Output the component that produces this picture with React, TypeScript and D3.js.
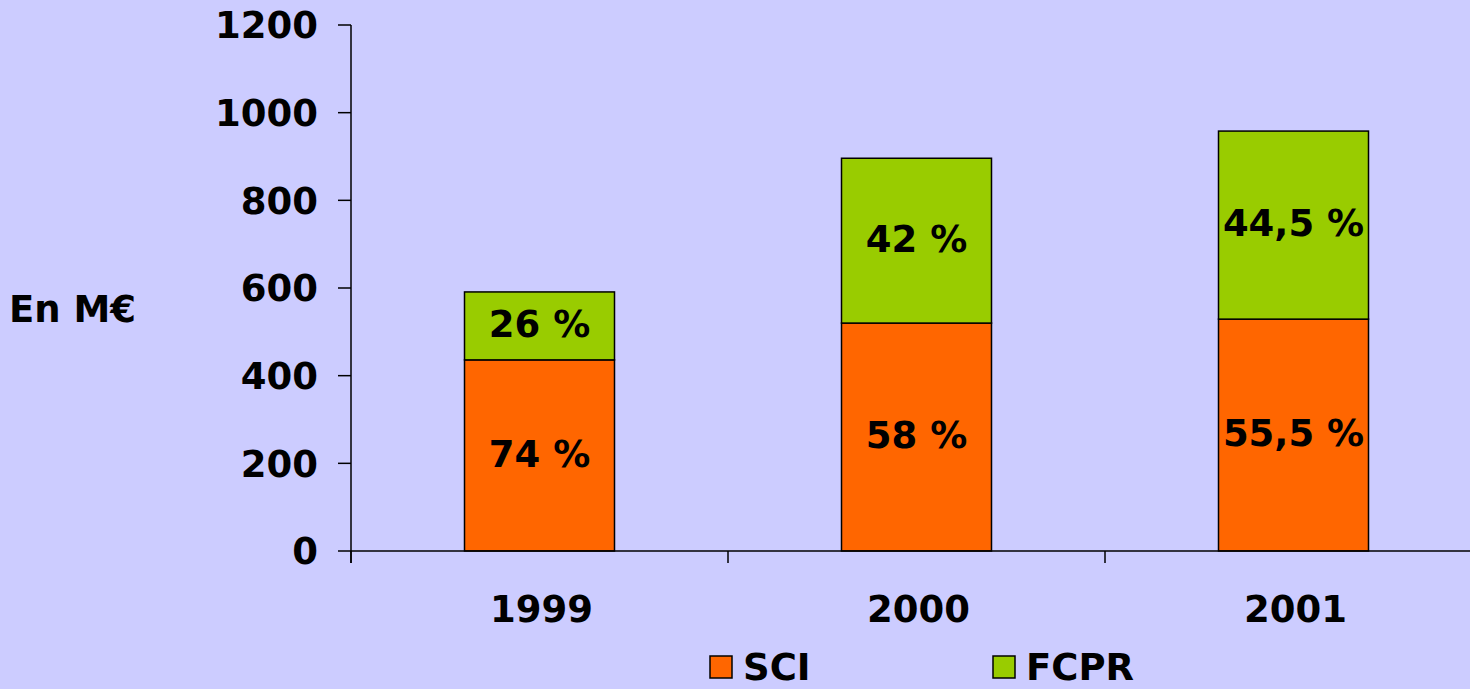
import React, { useEffect, useRef } from "react";
import * as d3 from "d3";

const years = ["1999", "2000", "2001"];
const sci = [436, 520, 529];
const fcpr = [155, 376, 429];
const sciLabels = ["74 %", "58 %", "55,5 %"];
const fcprLabels = ["26 %", "42 %", "44,5 %"];
const yTicks = [0, 200, 400, 600, 800, 1000, 1200];
const seriesNames = ["SCI", "FCPR"];

const App = () => {
  const ref = useRef<SVGSVGElement | null>(null);

  useEffect(() => {
    const svg = d3.select(ref.current);
    svg.selectAll("*").remove();

    const width = 1470, height = 689;
    const x0 = 351, y0 = 551, yTop = 25;
    const font = "'DejaVu Sans', Verdana, sans-serif";
    const fs = "37px";
    const colors = ["#FF6600", "#99CC00"];

    svg.append("rect").attr("width", width).attr("height", height).attr("fill", "#CCCCFF");

    const x = d3.scaleBand().domain(years).range([x0, x0 + 377 * 3]).paddingInner(0).paddingOuter(0);
    const y = d3.scaleLinear().domain([0, 1200]).range([y0, yTop]);
    const barW = 150;

    const table = years.map((yr, i) => ({ year: yr, SCI: sci[i], FCPR: fcpr[i] }));
    const stack = d3.stack<any>().keys(seriesNames)(table);
    const labels = [sciLabels, fcprLabels];

    stack.forEach((layer, li) => {
      const g = svg.append("g");
      g.selectAll("rect")
        .data(layer)
        .enter()
        .append("rect")
        .attr("x", (d) => x(d.data.year)! + (x.bandwidth() - barW) / 2)
        .attr("y", (d) => y(d[1]))
        .attr("width", barW)
        .attr("height", (d) => y(d[0]) - y(d[1]))
        .attr("fill", colors[li])
        .attr("stroke", "#000")
        .attr("stroke-width", 1.5);
      g.selectAll("text")
        .data(layer)
        .enter()
        .append("text")
        .attr("x", (d) => x(d.data.year)! + x.bandwidth() / 2)
        .attr("y", (d) => (y(d[0]) + y(d[1])) / 2 - 2)
        .attr("dy", "0.36em")
        .attr("text-anchor", "middle")
        .style("font-family", font)
        .style("font-weight", "bold")
        .style("font-size", fs)
        .text((d, i) => labels[li][i]);
    });

    // y axis
    const yAxis = svg.append("g");
    yAxis.append("line").attr("x1", x0).attr("x2", x0).attr("y1", y(1200)).attr("y2", y0 + 12)
      .attr("stroke", "#000").attr("stroke-width", 1.5);
    yAxis.selectAll("line.tick").data(yTicks).enter().append("line")
      .attr("class", "tick")
      .attr("x1", x0 - 13).attr("x2", x0)
      .attr("y1", (d) => y(d)).attr("y2", (d) => y(d))
      .attr("stroke", "#000").attr("stroke-width", 1.5);
    yAxis.selectAll("text").data(yTicks).enter().append("text")
      .attr("x", x0 - 33).attr("y", (d) => y(d)).attr("dy", "0.36em")
      .attr("text-anchor", "end")
      .style("font-family", font).style("font-weight", "bold").style("font-size", fs)
      .text((d) => String(d));

    // x axis
    const xAxis = svg.append("g");
    xAxis.append("line").attr("x1", x0).attr("x2", width).attr("y1", y0).attr("y2", y0)
      .attr("stroke", "#000").attr("stroke-width", 1.5);
    const bounds = years.map((yr) => x(yr)!).concat([x0 + 377 * 3]);
    xAxis.selectAll("line.tick").data(bounds).enter().append("line")
      .attr("class", "tick")
      .attr("x1", (d) => d).attr("x2", (d) => d).attr("y1", y0).attr("y2", y0 + 12)
      .attr("stroke", "#000").attr("stroke-width", 1.5);
    xAxis.selectAll("text").data(years).enter().append("text")
      .attr("x", (d) => x(d)! + x.bandwidth() / 2 + 2).attr("y", 622)
      .attr("text-anchor", "middle")
      .style("font-family", font).style("font-weight", "bold").style("font-size", fs)
      .text((d) => d);

    svg.append("text").attr("x", 9).attr("y", 322)
      .style("font-family", font).style("font-weight", "bold").style("font-size", fs)
      .text("En M€");

    // legend
    const legendX = [710, 993];
    const leg = svg.append("g");
    seriesNames.forEach((name, i) => {
      leg.append("rect").attr("x", legendX[i]).attr("y", 656).attr("width", 22).attr("height", 22)
        .attr("fill", colors[i]).attr("stroke", "#000").attr("stroke-width", 1.5);
      leg.append("text").attr("x", legendX[i] + 33).attr("y", 680)
        .style("font-family", font).style("font-weight", "bold").style("font-size", fs)
        .text(name);
    });
  }, []);

  return (
    <svg ref={ref} width={1470} height={689} style={{ position: "absolute", left: 0, top: 0 }} />
  );
};

export default App;
